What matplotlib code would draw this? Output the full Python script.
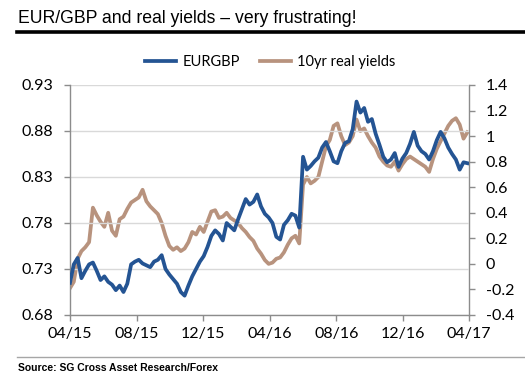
import numpy as np
import pandas as pd
import matplotlib
matplotlib.use("Agg")
import matplotlib.pyplot as plt
import matplotlib.dates as mdates
from matplotlib.ticker import FuncFormatter

# weekly readings, Apr 2015 -> Apr 2017
dates = pd.date_range("2015-04-01", periods=105, freq="7D")

eurgbp = [
    0.715, 0.735, 0.742, 0.720, 0.728, 0.735, 0.737, 0.728, 0.718, 0.722,
    0.716, 0.713, 0.707, 0.712, 0.705, 0.714, 0.735, 0.738, 0.740, 0.736,
    0.734, 0.732, 0.738, 0.740, 0.745, 0.730, 0.724, 0.719, 0.714, 0.705,
    0.701, 0.712, 0.722, 0.730, 0.738, 0.744, 0.754, 0.766, 0.772, 0.768,
    0.761, 0.780, 0.776, 0.772, 0.784, 0.795, 0.806, 0.800, 0.803, 0.811,
    0.798, 0.790, 0.786, 0.780, 0.765, 0.762, 0.778, 0.783, 0.790, 0.788,
    0.775, 0.852, 0.838, 0.842, 0.847, 0.851, 0.862, 0.868, 0.858, 0.847,
    0.845, 0.858, 0.867, 0.869, 0.882, 0.912, 0.900, 0.905, 0.890, 0.893,
    0.877, 0.865, 0.852, 0.846, 0.849, 0.856, 0.841, 0.850, 0.856, 0.866,
    0.879, 0.864, 0.858, 0.855, 0.849, 0.858, 0.870, 0.879, 0.872, 0.862,
    0.855, 0.849, 0.838, 0.846, 0.845,
]

real_yields = [
    -0.19, -0.14, 0.04, 0.10, 0.13, 0.17, 0.44, 0.38, 0.33, 0.29,
    0.40, 0.26, 0.22, 0.35, 0.37, 0.43, 0.48, 0.50, 0.52, 0.58,
    0.49, 0.45, 0.42, 0.39, 0.32, 0.22, 0.14, 0.11, 0.13, 0.10,
    0.12, 0.17, 0.25, 0.23, 0.29, 0.25, 0.33, 0.41, 0.42, 0.36,
    0.37, 0.40, 0.36, 0.34, 0.32, 0.28, 0.25, 0.21, 0.18, 0.12,
    0.08, 0.03, 0.00, 0.01, 0.04, 0.05, 0.09, 0.15, 0.20, 0.22,
    0.16, 0.62, 0.68, 0.63, 0.65, 0.68, 0.80, 0.92, 0.97, 1.08,
    1.10, 1.00, 0.93, 0.95, 1.00, 1.13, 1.04, 1.06, 1.00, 0.95,
    0.91, 0.84, 0.80, 0.77, 0.76, 0.80, 0.73, 0.78, 0.82, 0.84,
    0.82, 0.80, 0.78, 0.76, 0.72, 0.82, 0.90, 0.96, 1.02, 1.08,
    1.12, 1.14, 1.09, 0.98, 1.03,
]

left_ticks = [0.68, 0.73, 0.78, 0.83, 0.88, 0.93]
right_ticks = [-0.4, -0.2, 0, 0.2, 0.4, 0.6, 0.8, 1.0, 1.2, 1.4]
x_ticks = ["2015-04-01", "2015-08-01", "2015-12-01", "2016-04-01",
           "2016-08-01", "2016-12-01", "2017-04-01"]

blue = "#245493"
tan = "#b8937e"
grey = "#8c8c8c"
tick_font = "Lato"

fig = plt.figure(figsize=(5.25, 3.82), dpi=100)
ax = fig.add_axes([0.1333, 0.1754, 0.76, 0.6021])
ax2 = ax.twinx()

l1, = ax.plot(dates, eurgbp, color=blue, lw=2.7, zorder=3, label="EURGBP")
l2, = ax2.plot(dates, real_yields, color=tan, lw=2.7, zorder=2, label="10yr real yields")
ax.set_zorder(ax2.get_zorder() + 1)
ax.patch.set_visible(False)

ax.set_ylim(0.68, 0.93)
ax.set_yticks(left_ticks)
ax.yaxis.set_major_formatter(FuncFormatter(lambda v, p: f"{v:.2f}"))
ax2.set_ylim(-0.4, 1.4)
ax2.set_yticks(right_ticks)
ax2.yaxis.set_major_formatter(FuncFormatter(lambda v, p: f"{v:g}"))

ax.set_xlim(pd.Timestamp("2015-04-01"), pd.Timestamp("2017-04-01"))
ax.set_xticks(pd.to_datetime(x_ticks))
ax.xaxis.set_major_formatter(mdates.DateFormatter("%m/%y"))

ax.grid(axis="y", color="#d9d9d9", lw=1.0)
ax.set_axisbelow(True)

for a in (ax, ax2):
    a.spines["top"].set_visible(False)
    for s in ("left", "right", "bottom"):
        a.spines[s].set_color(grey)
        a.spines[s].set_linewidth(1.0)
    a.tick_params(length=4, color=grey, width=1.0, labelsize=11.5, pad=8)
    for lab in a.get_xticklabels() + a.get_yticklabels():
        lab.set_fontfamily(tick_font)
ax.spines["right"].set_visible(False)
ax2.spines["left"].set_visible(False)
ax2.spines["bottom"].set_visible(False)
ax.tick_params(axis="x", pad=5)

leg = fig.legend([l1, l2], ["EURGBP", "10yr real yields"], loc="center",
                 bbox_to_anchor=(0.515, 0.838), ncol=2, frameon=False,
                 handlelength=2.1, columnspacing=1.4, handletextpad=0.45,
                 prop={"family": tick_font, "size": 10.5})

fig.text(0.034, 0.952, "EUR/GBP and real yields \u2013 very frustrating!",
         fontsize=12.7, family="Liberation Sans", va="center", ha="left")
fig.add_artist(plt.Line2D([0.032, 1.0], [0.916, 0.916], color="black", lw=2.6))
fig.add_artist(plt.Line2D([0.032, 1.0], [0.066, 0.066], color="#a6a6a6", lw=1.0))
fig.text(0.034, 0.036, "Source: SG Cross Asset Research/Forex", fontsize=7.5,
         family="Liberation Sans", fontweight="bold", va="center", ha="left")

fig.savefig("out.png", dpi=100)
